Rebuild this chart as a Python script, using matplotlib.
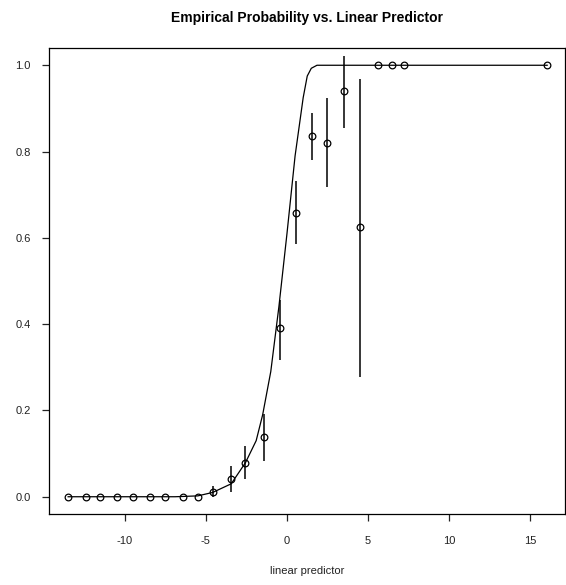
import matplotlib
matplotlib.use('Agg')
import matplotlib.pyplot as plt
import numpy as np

plt.rcParams['font.family'] = ['Liberation Sans', 'DejaVu Sans']
plt.rcParams['axes.unicode_minus'] = False

# binned empirical probabilities (x = bin mean of linear predictor)
bin_x = [-13.49, -12.38, -11.52, -10.49, -9.51, -8.48, -7.54, -6.43, -5.51,
         -4.58, -3.44, -2.56, -1.40, -0.41, 0.56, 1.52, 2.48, 3.52, 4.50,
         5.60, 6.47, 7.20, 16.05]
bin_p = [0, 0, 0, 0, 0, 0, 0, 0, 0,
         0.010, 0.041, 0.079, 0.138, 0.392, 0.658, 0.835, 0.820, 0.940, 0.625,
         1.0, 1.0, 1.0, 1.0]
bin_lo = [np.nan] * 9 + [0.0, 0.010, 0.040, 0.083, 0.316, 0.586, 0.780, 0.718, 0.855, 0.278] + [np.nan] * 4
bin_hi = [np.nan] * 9 + [0.024, 0.072, 0.117, 0.191, 0.455, 0.731, 0.890, 0.923, 1.022, 0.968] + [np.nan] * 4

# fitted probability curve
fit_x = [-13.5, -6.9, -5.5, -4.58, -3.44, -2.56, -1.9, -1.5, -1.0, -0.5, 0.0,
         0.5, 1.0, 1.25, 1.5, 1.85, 16.05]
fit_p = [0, 0, 0.002, 0.010, 0.030, 0.079, 0.13, 0.19, 0.29, 0.44, 0.61,
         0.79, 0.925, 0.975, 0.993, 1.0, 1.0]

fig = plt.figure(figsize=(5.66, 5.85), dpi=100)
ax = fig.add_axes([49/566, 1-514/585, (565-49)/566, (514-48)/585])

ax.plot(fit_x, fit_p, color='black', lw=0.9)
ax.vlines(bin_x, bin_lo, bin_hi, color='black', lw=1.1)
ax.plot(bin_x, bin_p, 'o', mfc='none', mec='black', ms=4.8, mew=0.9)

ax.set_xlim(-13.5 - 1.18, 16.05 + 1.1)
ax.set_ylim(-0.04, 1.04)
ax.set_xticks([-10, -5, 0, 5, 10, 15])
ax.set_yticks([0.0, 0.2, 0.4, 0.6, 0.8, 1.0])
ax.set_yticklabels(['0.0', '0.2', '0.4', '0.6', '0.8', '1.0'])
ax.tick_params(length=5, width=0.9, labelsize=8, colors='#222222')
ax.tick_params(axis='x', pad=11)
ax.tick_params(axis='y', pad=8)
for s in ax.spines.values():
    s.set_linewidth(0.9)

ax.set_xlabel('linear predictor', fontsize=8, labelpad=14, color='#222222')
fig.suptitle('Empirical Probability vs. Linear Predictor', x=307/566, y=1-18/585,
             va='center', fontsize=10, fontweight='bold')

fig.savefig('out.png', dpi=100)
